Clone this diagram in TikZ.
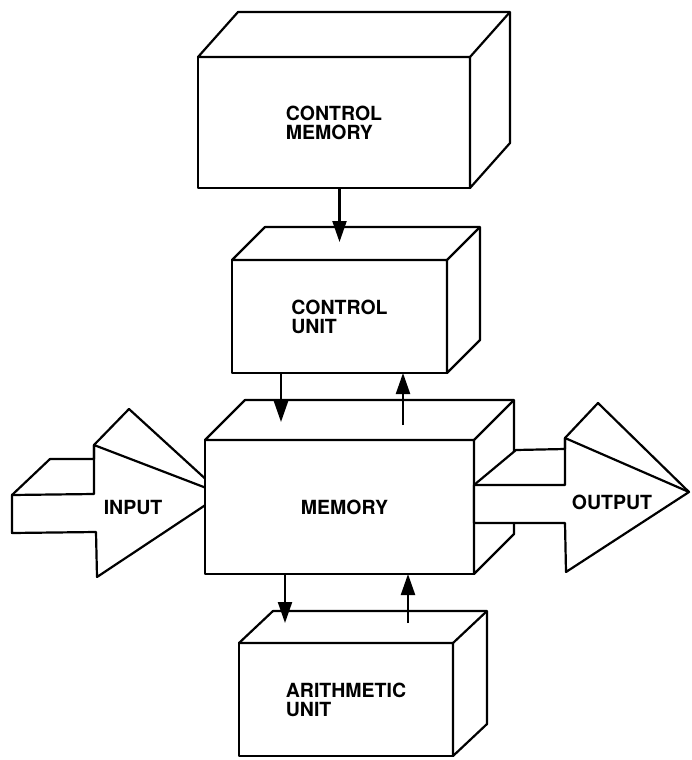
\documentclass[tikz,border=0pt]{standalone}
\usepackage{fontspec}
\setmainfont{TeX Gyre Heros}
\usetikzlibrary{arrows.meta,calc}
\newcommand\lblfont{\fontsize{19.5}{19}\selectfont\bfseries}
\newcommand\boxsides[3]{%
  \draw[face] (#1.north west) -- ++(#2,#3) -- ([shift={(#2,#3)}]#1.north east)
     -- ([shift={(#2,#3)}]#1.south east) -- (#1.south east) -- (#1.north east) -- cycle;
  \draw[face] (#1.north east) -- ++(#2,#3);}
\begin{document}
\begin{tikzpicture}[x=1pt,y=-1pt,line width=2.2pt,line join=round,
  unitbox/.style={draw,fill=white,rectangle,outer sep=0pt,inner sep=0pt,align=left,font=\lblfont},
  face/.style={draw,fill=white},
  arr/.style={-{Triangle[length=21pt,width=14pt]}},
  lbl/.style={font=\lblfont}]
\useasboundingbox (0,0) rectangle (692,760);

% control memory
\node[unitbox,minimum width=272pt,minimum height=131pt] (cm) at (334,122.5) {CONTROL\\MEMORY};
\boxsides{cm}{40}{-45}

% control unit
\node[unitbox,minimum width=215pt,minimum height=113pt] (cu) at (339.5,316.5) {CONTROL\\UNIT};
\boxsides{cu}{33}{-33}

% input arrow
\draw[face] (12,533) -- (12,495) -- (50,459) -- (94,459) -- (94,445) -- (129,409)
  -- (222,494) -- (97,577) -- (96,532) -- cycle;
\draw (12,495) -- (94,494) -- (94,445) -- (222,494);

% memory
\node[unitbox,minimum width=269pt,minimum height=134pt] (mem) at (339.5,507) {\hspace*{10pt}MEMORY};
\boxsides{mem}{40}{-40}

% output arrow
\draw[face] (474,523) -- (474,485) -- (516,450) -- (565,449) -- (565,438) -- (598,403)
  -- (689,492) -- (566,572) -- (565,523) -- cycle;
\draw (474,485) -- (565,485) -- (565,438) -- (689,492);

% arithmetic unit
\node[unitbox,minimum width=214pt,minimum height=113pt] (au) at (346,699.5) {ARITHMETIC\\UNIT};
\boxsides{au}{34}{-32}

\node[lbl] (inlbl) at (133,508) {INPUT};
\node[lbl] (outlbl) at (612,502) {OUTPUT};

% connectors
\draw[arr] (cm.south -| cu.north) -- ([yshift=18pt]cu.north);
\draw[arr] ([xshift=49pt]cu.south west) -- ([xshift=76pt,yshift=18pt]mem.north west);
\draw[arr] ([xshift=198pt,yshift=15pt]mem.north west) -- ([xshift=171pt]cu.south west);
\draw[arr] ([xshift=80pt]mem.south west) -- ([xshift=46pt,yshift=20pt]au.north west);
\draw[arr] ([xshift=169pt,yshift=20pt]au.north west) -- ([xshift=203pt]mem.south west);
\end{tikzpicture}
\end{document}
